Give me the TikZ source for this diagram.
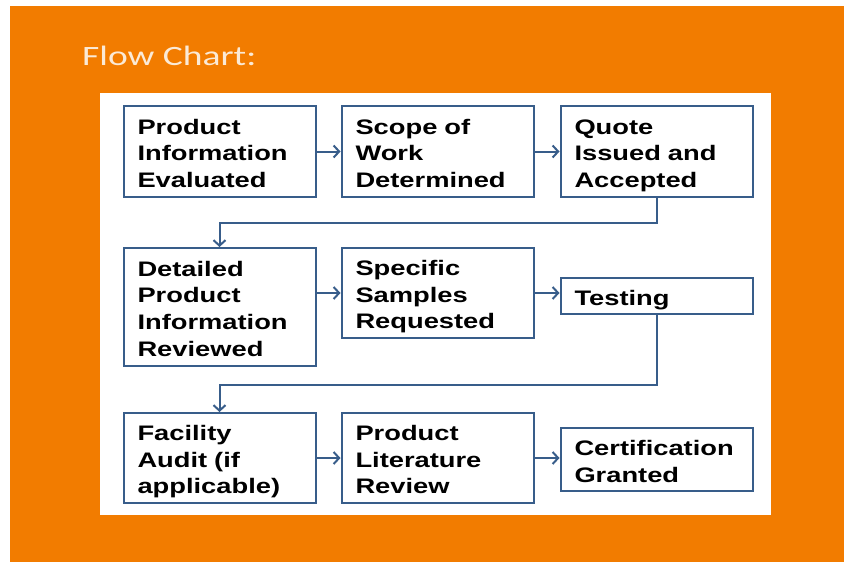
\documentclass[tikz,border=0pt]{standalone}
\usepackage{fontspec}
\usetikzlibrary{arrows.meta}
\newfontfamily\boxfont{Liberation Sans}[FakeStretch=1.3]
\newfontfamily\titlefont{Carlito}[FakeStretch=1.34]
\definecolor{slideorange}{RGB}{242,124,0}
\definecolor{boxblue}{RGB}{56,93,138}
\definecolor{titlecream}{RGB}{251,234,214}
\tikzset{
  stepbox/.style={draw=boxblue, line width=2pt, fill=white, text width=164pt, inner xsep=14pt, inner ysep=0pt,
    align=left, font=\boxfont\bfseries\fontsize{21}{26.7}\selectfont,
    execute at begin node={\rule{0pt}{23pt}}, execute at end node={\rule[-4.6pt]{0pt}{4.6pt}}},
  flow/.style={draw=boxblue, line width=2pt, -{Straight Barb[length=5.5pt,width=12pt]}}
}
\begin{document}
\begin{tikzpicture}[x=1pt, y=-1pt]
        \useasboundingbox (0,0) rectangle (844,562);
        \fill[white] (0,0) rectangle (844,562);
        \fill[slideorange] (10,6) rectangle (844,562);       % slide
        \fill[white] (100,93) rectangle (771,515);           % panel
        \node[anchor=base west, inner sep=0pt, text=titlecream, font=\titlefont\fontsize{28}{34}\selectfont] (title) at (82,65) {Flow Chart:};

        % row 1
        \node[stepbox, minimum height=91pt] (prodinfo) at (219.5,151.5) {Product\\Information\\Evaluated};
        \node[stepbox, minimum height=91pt] (scope) at (437.5,151.5) {Scope of\\Work\\Determined};
        \node[stepbox, minimum height=91pt] (quote) at (656.5,151.5) {Quote\\Issued and\\Accepted};
        % row 2
        \node[stepbox, minimum height=118pt] (detailed) at (219.5,307) {Detailed\\Product\\Information\\Reviewed};
        \node[stepbox, minimum height=90pt] (samples) at (437.5,293) {Specific\\Samples\\Requested};
        \node[stepbox, minimum height=36pt] (testing) at (656.5,296) {Testing};
        % row 3
        \node[stepbox, minimum height=90pt] (audit) at (219.5,458) {Facility\\Audit (if\\applicable)};
        \node[stepbox, minimum height=90pt] (literature) at (437.5,458) {Product\\Literature\\Review};
        \node[stepbox, minimum height=63pt] (granted) at (656.5,459.5) {Certification\\Granted};

        \coordinate (turnA) at (656.5,223);
        \coordinate (turnB) at (656.5,385);

        \draw[flow] (prodinfo) -- (scope);
        \draw[flow] (scope) -- (quote);
        \draw[flow] (quote.south) |- (turnA) -| (detailed.north);
        \draw[flow] (detailed.east |- samples.west) -- (samples.west);
        \draw[flow] (samples.east) -- (samples.east -| testing.west);
        \draw[flow] (testing.south) |- (turnB) -| (audit.north);
        \draw[flow] (audit) -- (literature);
        \draw[flow] (literature.east) -- (literature.east -| granted.west);
\end{tikzpicture}
\end{document}
